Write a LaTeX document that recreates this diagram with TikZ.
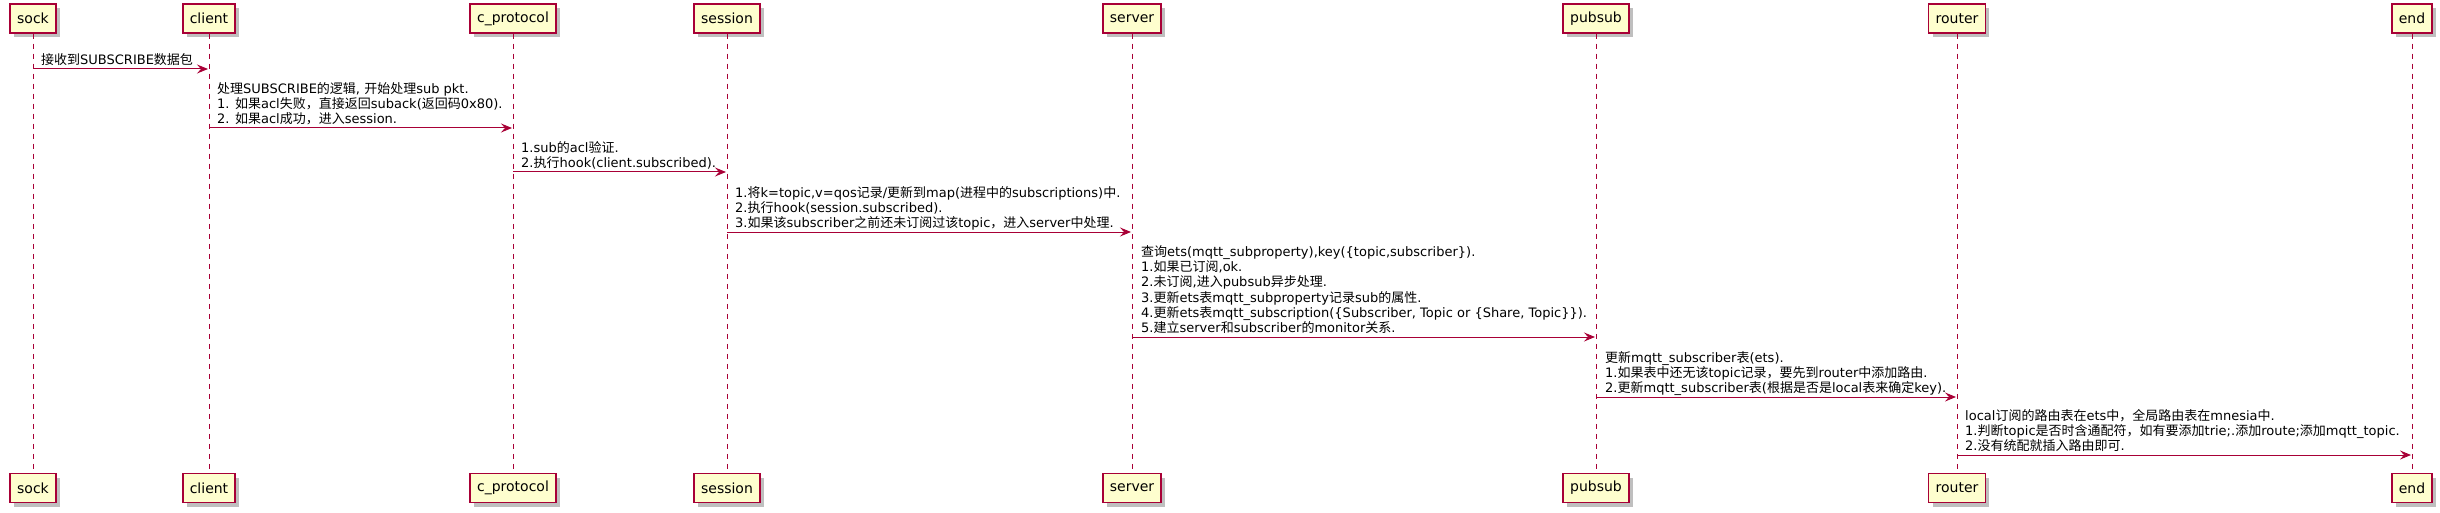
\documentclass[tikz,border=0pt]{standalone}
\usepackage{fontspec}
\setmainfont{DejaVu Sans}
\newfontfamily\latinfont{DejaVu Sans}
\newfontfamily\cjkfont{Noto Sans CJK SC}
\usetikzlibrary{arrows.meta,shadows}
\XeTeXinterchartokenstate=1
\newXeTeXintercharclass\CJKcls
\newcount\cjkc
\def\setcjkrange#1#2{\cjkc=#1\relax\loop\XeTeXcharclass\cjkc=\CJKcls\relax\ifnum\cjkc<#2\relax\advance\cjkc by 1\repeat}
\setcjkrange{"3000}{"303F}
\setcjkrange{"4E00}{"9FFF}
\setcjkrange{"FF00}{"FFEF}
\XeTeXinterchartoks 0 \CJKcls = {\cjkfont}
\XeTeXinterchartoks 4095 \CJKcls = {\cjkfont}
\XeTeXinterchartoks \CJKcls 0 = {\latinfont}
\XeTeXinterchartoks \CJKcls 4095 = {\latinfont}
\definecolor{pumlred}{HTML}{A80036}
\definecolor{pumlfill}{HTML}{FEFECE}
\begin{document}
\begin{tikzpicture}[x=1pt,y=-1pt,
  participant/.style={draw=pumlred, fill=pumlfill, line width=1.5pt, minimum height=29pt,
    inner xsep=7pt, inner ysep=0pt, font=\fontsize{14}{16}\selectfont,
    drop shadow={shadow xshift=4pt, shadow yshift=-4pt, fill=black, opacity=0.25}},
  lifeline/.style={draw=pumlred, line width=1pt, dash pattern=on 5pt off 5pt},
  msgarrow/.style={draw=pumlred, line width=1pt, -{Stealth[length=11pt,width=9pt,inset=4pt]}, shorten >=1pt},
  msgtext/.style={anchor=base west, align=left, inner sep=0pt, font=\fontsize{13}{15.2}\selectfont}]
\useasboundingbox (0,0) rectangle (2440,513);
% participants
\foreach \n/\x/\t in {sock/33/sock, client/209/client, cproto/513/c\_protocol, session/727/session,
  server/1132/server, pubsub/1596/pubsub, router/1957/router, endp/2412/end}{
  \node[participant] (\n T) at (\x,18.5) {\t};
  \node[participant] (\n B) at (\x,488) {\t};
  \draw[lifeline] (\n T.south) -- (\n B.north);
}
% messages (text anchored at the baseline of its last line)
\draw[msgarrow] (sockT |- 0,69) -- (clientT |- 0,69);
\node[msgtext] (t1) at (41,64.5) {接收到SUBSCRIBE数据包};
\draw[msgarrow] (clientT |- 0,128) -- (cprotoT |- 0,128);
\node[msgtext] (t2) at (217,123.5) {处理SUBSCRIBE的逻辑, 开始处理sub pkt.\\1. 如果acl失败，直接返回suback(返回码0x80).\\2. 如果acl成功，进入session.};
\draw[msgarrow] (cprotoT |- 0,172) -- (sessionT |- 0,172);
\node[msgtext] (t3) at (521,167.5) {1.sub的acl验证.\\2.执行hook(client.subscribed).};
\draw[msgarrow] (sessionT |- 0,232) -- (serverT |- 0,232);
\node[msgtext] (t4) at (735,227.5) {1.将k=topic,v=qos记录/更新到map(进程中的subscriptions)中.\\2.执行hook(session.subscribed).\\3.如果该subscriber之前还未订阅过该topic，进入server中处理.};
\draw[msgarrow] (serverT |- 0,337) -- (pubsubT |- 0,337);
\node[msgtext] (t5) at (1141,332.5) {查询ets(mqtt\_subproperty),key(\{topic,subscriber\}).\\1.如果已订阅,ok.\\2.未订阅,进入pubsub异步处理.\\3.更新ets表mqtt\_subproperty记录sub的属性.\\4.更新ets表mqtt\_subscription(\{Subscriber, Topic or \{Share, Topic\}\}).\\5.建立server和subscriber的monitor关系.};
\draw[msgarrow] (pubsubT |- 0,397) -- (routerT |- 0,397);
\node[msgtext] (t6) at (1605,392.5) {更新mqtt\_subscriber表(ets).\\1.如果表中还无该topic记录，要先到router中添加路由.\\2.更新mqtt\_subscriber表(根据是否是local表来确定key).};
\draw[msgarrow] (routerT |- 0,455) -- (endpT |- 0,455);
\node[msgtext] (t7) at (1965,450.5) {local订阅的路由表在ets中，全局路由表在mnesia中.\\1.判断topic是否时含通配符，如有要添加trie;.添加route;添加mqtt\_topic.\\2.没有统配就插入路由即可.};
\end{tikzpicture}
\end{document}
